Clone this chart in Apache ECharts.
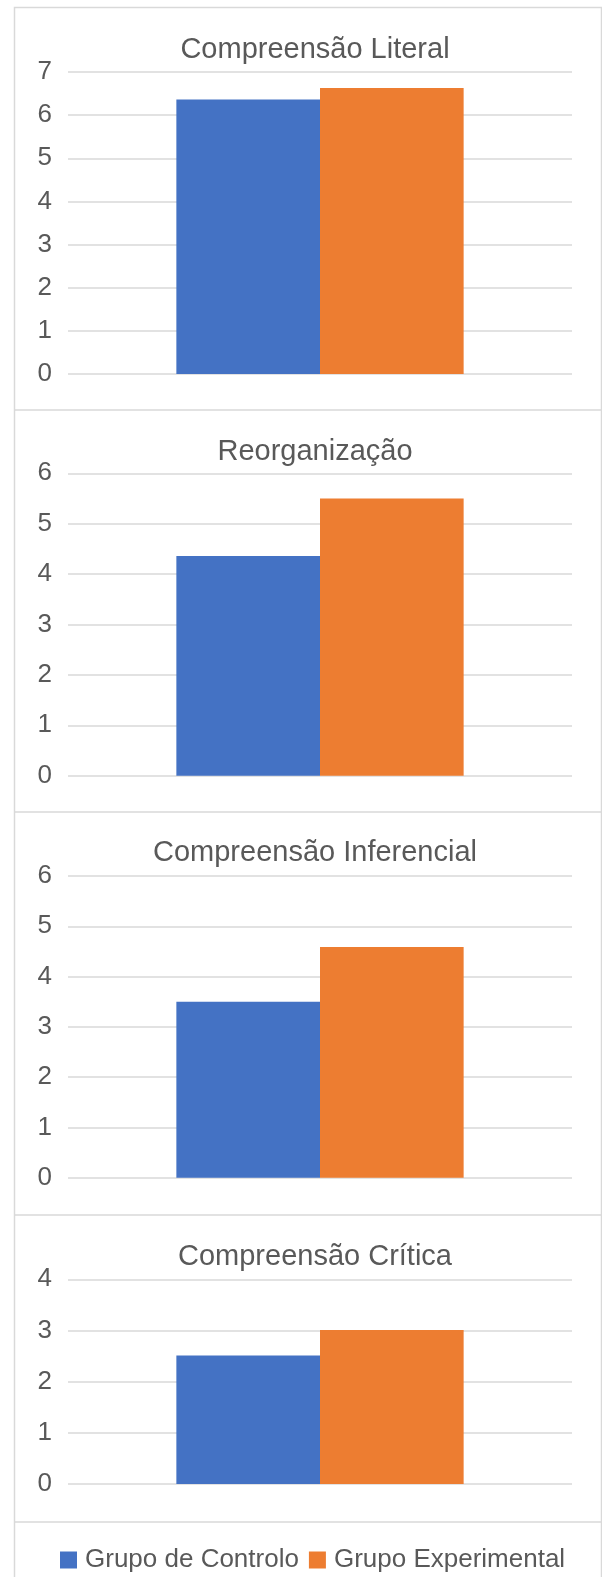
<!DOCTYPE html>
<html>
<head>
<meta charset="utf-8">
<script src="https://cdn.jsdelivr.net/npm/echarts@6/dist/echarts.min.js"></script>
<style>
  html, body { margin: 0; padding: 0; background: #fff; }
  #main { width: 602px; height: 1577px; }
</style>
</head>
<body>
<div id="main"></div>
<script>
// data
const titles = ["Compreensão Literal", "Reorganização", "Compreensão Inferencial", "Compreensão Crítica"];
const groups = ["Grupo de Controlo", "Grupo Experimental"];
const controlo = [6.36, 4.36, 3.5, 2.51];
const experimental = [6.63, 5.5, 4.59, 3.01];
const yMax = [7, 6, 6, 4];

// layout
const gridTop = [72, 473.3, 876, 1279.3];
const gridHeight = [302, 302.4, 301.7, 204.7];
const titleTop = [30, 432, 833, 1237];
const panelLines = [410, 812, 1215, 1522];
const colors = ["#4472C4", "#ED7D31"];
const textColor = "#595959";
const lineColor = "#d9d9d9";

let option = {
  animation: false,
  color: colors,
  textStyle: { fontFamily: "Liberation Sans, Arial, sans-serif" },
  title: titles.map(function (t, i) {
    return {
      text: t,
      left: 310,
      top: titleTop[i],
      textAlign: "center",
      textStyle: { fontSize: 29, fontWeight: "normal", color: textColor },
    };
  }),
  legend: {
    data: groups,
    left: 55,
    top: 1542,
    itemWidth: 17,
    itemHeight: 17,
    itemGap: 10,
    icon: "rect",
    textStyle: { fontSize: 26, color: textColor, padding: [0, 0, 0, 3] },
  },
  graphic: [
    {
      type: "rect",
      shape: { x: 14.5, y: 7.5, width: 587, height: 1600 },
      style: { fill: "none", stroke: lineColor, lineWidth: 1.5 },
      silent: true,
      z: -1,
    },
  ].concat(
    panelLines.map(function (y) {
      return {
        type: "line",
        shape: { x1: 14.5, y1: y, x2: 602, y2: y },
        style: { stroke: lineColor, lineWidth: 1.5 },
        silent: true,
        z: -1,
      };
    })
  ),
  grid: gridTop.map(function (top, i) {
    return { left: 68, width: 504, top: top, height: gridHeight[i] };
  }),
  xAxis: titles.map(function (t, i) {
    return {
      type: "category",
      gridIndex: i,
      data: [""],
      axisLine: { show: false },
      axisTick: { show: false },
      axisLabel: { show: false },
    };
  }),
  yAxis: yMax.map(function (m, i) {
    return {
      type: "value",
      gridIndex: i,
      min: 0,
      max: m,
      interval: 1,
      axisLine: { show: false },
      axisTick: { show: false },
      axisLabel: { fontSize: 26, color: textColor, margin: 16 },
      splitLine: { lineStyle: { color: lineColor, width: 1.5 } },
    };
  }),
  series: [],
};

titles.forEach(function (t, i) {
  option.series.push({
    name: groups[0],
    type: "bar",
    xAxisIndex: i,
    yAxisIndex: i,
    barGap: "0%",
    barCategoryGap: "43%",
    data: [controlo[i]],
  });
  option.series.push({
    name: groups[1],
    type: "bar",
    xAxisIndex: i,
    yAxisIndex: i,
    barGap: "0%",
    barCategoryGap: "43%",
    data: [experimental[i]],
  });
});

let myChart = echarts.init(document.getElementById("main"));
option && myChart.setOption(option);
</script>
</body>
</html>
